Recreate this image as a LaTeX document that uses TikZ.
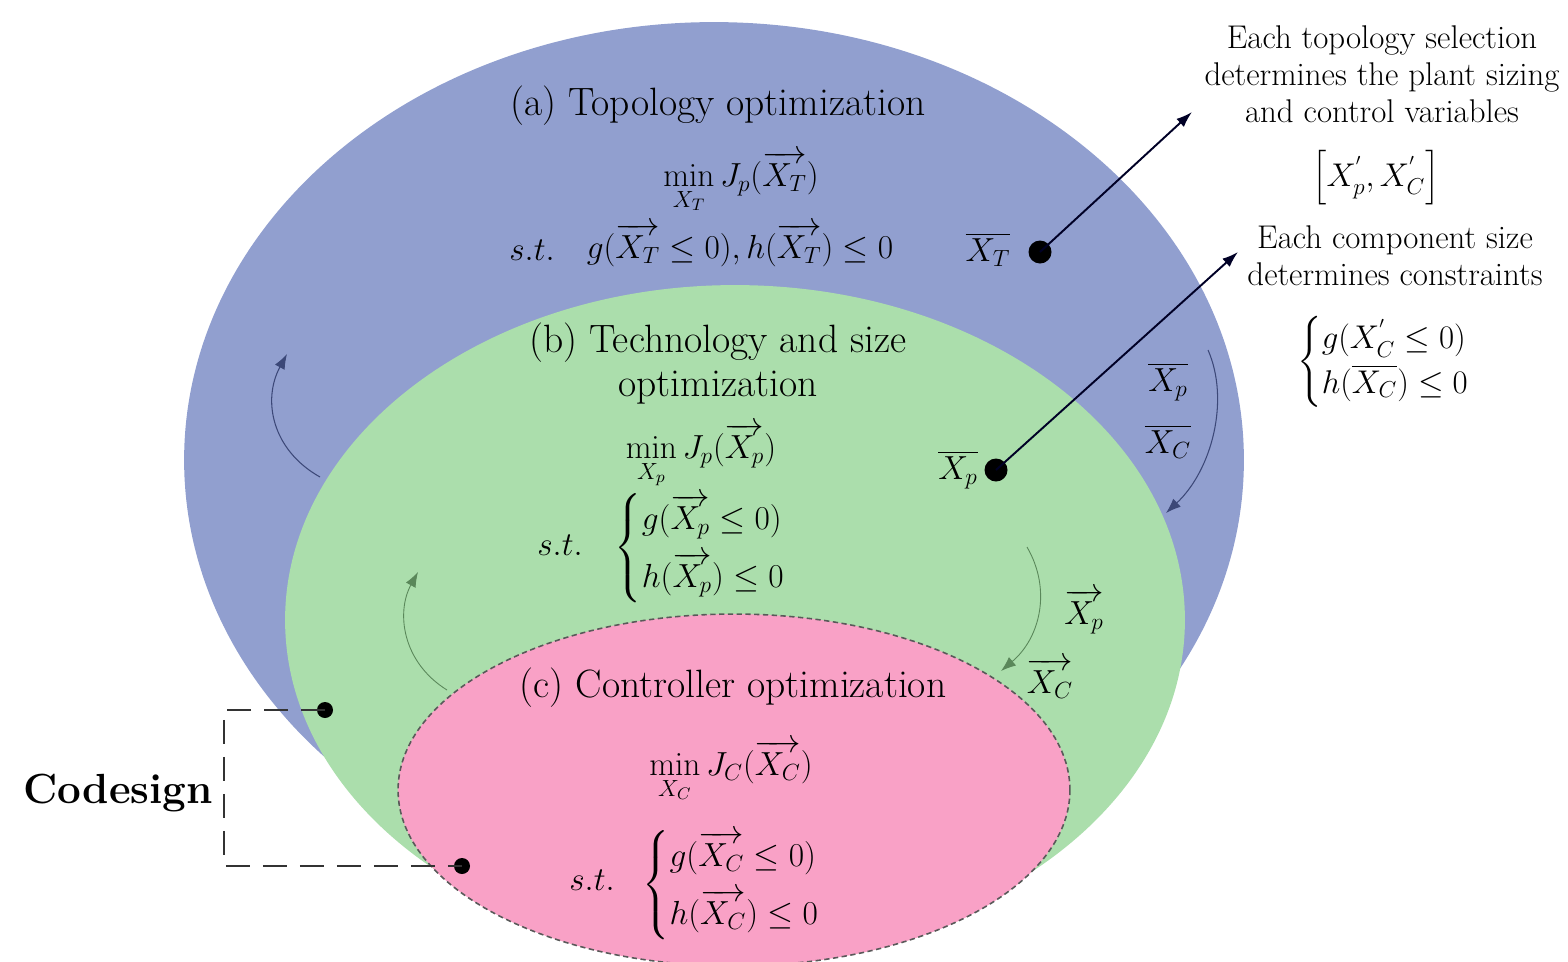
\RequirePackage{fix-cm}
\documentclass[tikz,border=0pt]{standalone}
\usepackage{amsmath}
\usetikzlibrary{arrows.meta}
\definecolor{topblue}{RGB}{145,159,207}
\definecolor{techgreen}{RGB}{171,222,172}
\definecolor{ctrlpink}{RGB}{249,161,198}
\definecolor{arcblue}{RGB}{60,72,120}
\definecolor{arcgreen}{RGB}{90,135,90}
\newcommand\ttlfont{\fontsize{22.5}{25}\selectfont}
\newcommand\mfont{\fontsize{19}{23}\selectfont}
\newcommand\sidefont{\fontsize{18.7}{21}\selectfont}
\newcommand\codefont{\fontsize{24}{28}\selectfont\bfseries}
\begin{document}
\begin{tikzpicture}[x=0.02cm,y=-0.02cm,
  txt/.style={inner sep=0pt, outer sep=0pt},
  dot/.style={circle, fill=black, inner sep=0pt},
  bigdot/.style={dot, minimum size=0.46cm},
  smalldot/.style={dot, minimum size=0.32cm},
  linkarrow/.style={line width=1.1pt, draw=black!85!blue, -{Latex[length=0.32cm,width=0.22cm]}},
  bluearc/.style={line width=0.6pt, draw=arcblue, -{Latex[length=0.3cm,width=0.22cm]}},
  greenarc/.style={line width=0.5pt, draw=arcgreen, -{Latex[length=0.3cm,width=0.22cm]}},
  codedash/.style={line width=1.6pt, draw=black!80, dash pattern=on 0.48cm off 0.26cm}
]
\useasboundingbox (0,0) rectangle (1568,961);
% ellipses
\fill[topblue] (714,460) ellipse [x radius=10.6cm, y radius=8.76cm];
\fill[techgreen] (735,620) ellipse [x radius=9.0cm, y radius=6.7cm];
\fill[ctrlpink] (734,790) ellipse [x radius=6.72cm, y radius=3.52cm];
\draw[black!65, line width=0.9pt, dash pattern=on 3pt off 2pt] (734,790) ellipse [x radius=6.72cm, y radius=3.52cm];

% (a) Topology
\node[txt] (ta) at (718,106) {\ttlfont (a) Topology optimization};
\node[txt, anchor=base] (ma) at (741,186) {\mfont $\displaystyle\min_{X_T} J_p(\overrightarrow{X_T})$};
\node[txt] (sa) at (532,250) {\mfont $s.t.$};
\node[txt] (ca) at (740,245) {\mfont $g(\overrightarrow{X_T}\le 0), h(\overrightarrow{X_T})\le 0$};
\node[txt] (lT) at (988,250) {\mfont $\overline{X_T}$};
\node[bigdot] (dT) at (1040,252) {};

% (b) Technology
\node[txt, align=center, font=\fontsize{22.5}{25}\selectfont] (tb) at (718,364) {(b) Technology and size\\ optimization};
\node[txt, anchor=base] (mb) at (701,458) {\mfont $\displaystyle\min_{X_p} J_p(\overrightarrow{X_p})$};
\node[txt] (sb) at (560,545) {\mfont $s.t.$};
\node[txt] (cb) at (717,548) {\mfont $\begin{cases} g(\overrightarrow{X_p}\le 0)\\[5pt] h(\overrightarrow{X_p})\le 0\end{cases}$};
\node[txt] (lP) at (958,470) {\mfont $\overline{X_p}$};
\node[bigdot] (dP) at (996,470) {};

% (c) Controller
\node[txt] (tc) at (733,688) {\ttlfont (c) Controller optimization};
\node[txt, anchor=base] (mc) at (731,775) {\mfont $\displaystyle\min_{X_C} J_C(\overrightarrow{X_C})$};
\node[txt] (sc) at (592,880) {\mfont $s.t.$};
\node[txt] (cc) at (748,885) {\mfont $\begin{cases} g(\overrightarrow{X_C}\le 0)\\[5pt] h(\overrightarrow{X_C})\le 0\end{cases}$};

% right-side explanations
\node[txt, align=center, font=\sidefont] (e1) at (1382,74) {Each topology selection\\ determines the plant sizing\\ and control variables};
\node[txt] (b1) at (1376,178) {\sidefont $\Big[X_p^{'}, X_C^{'}\Big]$};
\node[txt, align=center, font=\sidefont] (e2) at (1395,256) {Each component size\\ determines constraints};
\node[txt] (b2) at (1400,362) {\sidefont $\begin{cases} g(X_C^{'}\le 0)\\ h(\overline{X_C})\le 0\end{cases}$};

% link arrows
\coordinate (tipT) at (1192,112);
\coordinate (tipP) at (1238,252);
\draw[linkarrow] (dT.center) -- (tipT);
\draw[linkarrow] (dP.center) -- (tipP);

% curved arrows
\coordinate (ab1) at (320,477); \coordinate (ab2) at (287,354);
\draw[bluearc] (ab1) .. controls (272,450) and (262,400) .. (ab2);
\coordinate (ag1) at (447,690); \coordinate (ag2) at (418,572);
\draw[greenarc] (ag1) .. controls (402,662) and (396,612) .. (ag2);
\coordinate (rb1) at (1208,350); \coordinate (rb2) at (1166,513);
\draw[bluearc] (rb1) .. controls (1230,400) and (1212,470) .. (rb2);
\coordinate (rg1) at (1027,547); \coordinate (rg2) at (1001,671);
\draw[greenarc] (rg1) .. controls (1052,590) and (1040,638) .. (rg2);

\node[txt] (rbp) at (1168,382) {\mfont $\overline{X_p}$};
\node[txt] (rbc) at (1168,442) {\mfont $\overline{X_C}$};
\node[txt] (rgp) at (1084,612) {\mfont $\overrightarrow{X_p}$};
\node[txt] (rgc) at (1050,678) {\mfont $\overrightarrow{X_C}$};

% codesign
\node[txt] (cd) at (118,793) {\codefont Codesign};
\node[smalldot] (dA) at (325,710) {};
\node[smalldot] (dB) at (462,866) {};
\coordinate (k1) at (224,710);
\coordinate (k2) at (224,866);
\draw[codedash] (dA.center) -- (k1) -- (k2) -- (dB.center);
\end{tikzpicture}
\end{document}
